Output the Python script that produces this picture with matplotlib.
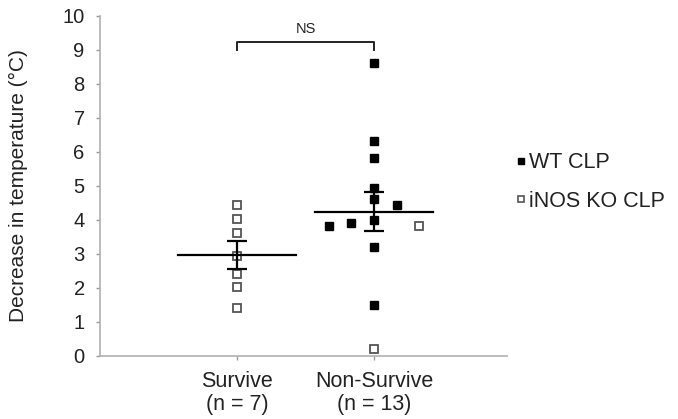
import numpy as np
import matplotlib
matplotlib.use("Agg")
import matplotlib.pyplot as plt

plt.rcParams['font.family'] = ['Liberation Sans', 'DejaVu Sans']

categories = ["Survive\n(n = 7)", "Non-Survive\n(n = 13)"]
cat_pos = [1, 2]

# Survive group (all iNOS KO CLP)
survive_ko = [4.43, 4.01, 3.62, 2.93, 2.39, 2.01, 1.39]
survive_ko_dx = [0, 0, 0, 0, 0, 0, 0]

# Non-survive group
nonsurv_wt = [8.6, 6.3, 5.8, 4.94, 4.6, 4.42, 4.0, 3.8, 3.91, 3.2, 1.5]
nonsurv_wt_dx = [0, 0, 0, 0, 0, 0.165, 0, -0.33, -0.165, 0, 0]
nonsurv_ko = [3.82, 0.21]
nonsurv_ko_dx = [0.33, 0]

fig = plt.figure(figsize=(6.78, 4.19), dpi=100)
ax = fig.add_axes([100/678, 1-355.7/419, 407/678, 340/419])

fill_ms = 6.0
open_ms = 5.2
gray = '#9a9a9a'

# data points
ax.plot(np.array(survive_ko_dx) + cat_pos[0], survive_ko, 's', ms=open_ms,
        mfc='white', mec='#555555', mew=1.3, ls='none', zorder=2)
ax.plot(np.array(nonsurv_wt_dx) + cat_pos[1], nonsurv_wt, 's', ms=fill_ms,
        mfc='black', mec='black', ls='none', zorder=3)
ax.plot(np.array(nonsurv_ko_dx) + cat_pos[1], nonsurv_ko, 's', ms=open_ms,
        mfc='white', mec='#555555', mew=1.3, ls='none', zorder=2)

# mean +/- SEM
groups = [np.array(survive_ko), np.array(nonsurv_wt + nonsurv_ko)]
for pos, g in zip(cat_pos, groups):
    m = g.mean()
    sem = g.std(ddof=1) / np.sqrt(len(g))
    ax.plot([pos - 0.43, pos + 0.43], [m, m], color='black', lw=1.6, zorder=4)
    ax.errorbar(pos, m, yerr=sem, color='black', lw=1.6, capsize=7,
                capthick=1.6, zorder=4)

# significance bracket
ax.plot([cat_pos[0], cat_pos[0], cat_pos[1], cat_pos[1]], [9.0, 9.24, 9.24, 9.0],
        color='#222222', lw=1.4, clip_on=False)
ax.text(np.mean(cat_pos), 9.4, "NS", ha='center', va='bottom', fontsize=10.5,
        color='#222222')

ax.set_xlim(0, 2.97)
ax.set_ylim(0, 10)
ax.set_yticks(range(0, 11))
ax.set_xticks(cat_pos)
ax.set_xticklabels(categories, fontsize=15.5, color='#222222', linespacing=1.1)
ax.tick_params(axis='y', labelsize=14.5, labelcolor='#222222', color=gray,
               length=3, width=1, pad=8)
ax.tick_params(axis='x', color=gray, length=3, width=1, pad=8)

for s in ['top', 'right']:
    ax.spines[s].set_visible(False)
for s in ['left', 'bottom']:
    ax.spines[s].set_color('#b0b0b0')
    ax.spines[s].set_linewidth(1.2)

ax.set_ylabel("Decrease in temperature (°C)", fontsize=15, color='#222222')
ax.yaxis.set_label_coords(-0.177, 0.5)

# legend
h1 = plt.Line2D([], [], marker='s', ls='none', ms=5, mfc='black', mec='black')
h2 = plt.Line2D([], [], marker='s', ls='none', ms=5, mfc='white', mec='#555555', mew=1.2)
fig.legend([h1, h2], ["WT CLP", "iNOS KO CLP"], loc='upper left',
           bbox_to_anchor=(496/678, 1-133/419), frameon=False, fontsize=15.5,
           handlelength=0.5, handletextpad=0.15, labelspacing=0.8,
           labelcolor='#222222')

fig.savefig("out.png", dpi=100)
